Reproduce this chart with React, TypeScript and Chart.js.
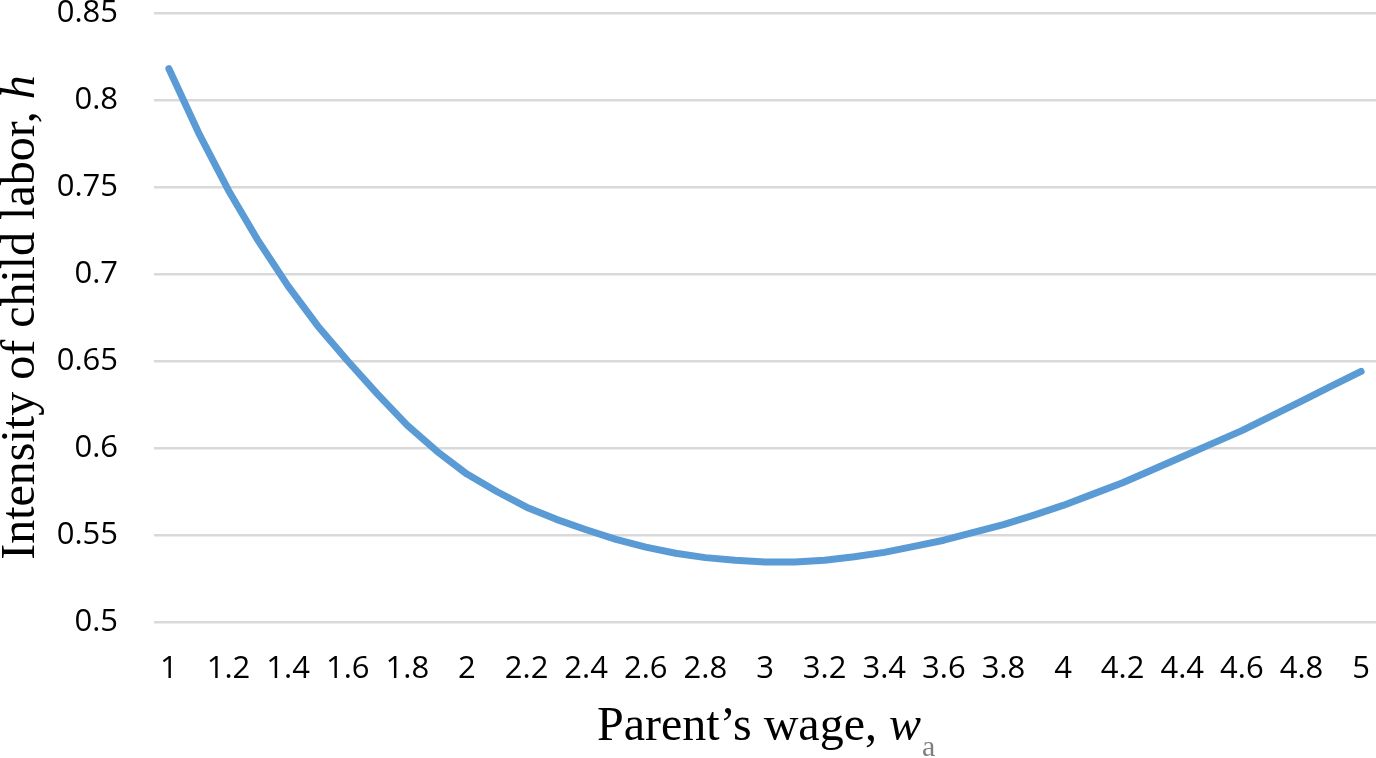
import React, { useEffect, useRef } from 'react';
import { Chart, registerables } from 'chart.js';

Chart.register(...registerables);

// Parent's wage (x categories, step 0.1)
const wageCategories = [
  '1', '1.1', '1.2', '1.3', '1.4', '1.5', '1.6', '1.7', '1.8', '1.9',
  '2', '2.1', '2.2', '2.3', '2.4', '2.5', '2.6', '2.7', '2.8', '2.9',
  '3', '3.1', '3.2', '3.3', '3.4', '3.5', '3.6', '3.7', '3.8', '3.9',
  '4', '4.1', '4.2', '4.3', '4.4', '4.5', '4.6', '4.7', '4.8', '4.9',
  '5',
];

// Labels actually printed on the x axis
const xTickLabels = [
  '1', '1.2', '1.4', '1.6', '1.8', '2', '2.2', '2.4', '2.6', '2.8',
  '3', '3.2', '3.4', '3.6', '3.8', '4', '4.2', '4.4', '4.6', '4.8', '5',
];

// Intensity of child labor, h
const intensityValues = [
  0.818, 0.781, 0.748, 0.719, 0.693, 0.670, 0.650, 0.631, 0.613, 0.598,
  0.585, 0.575, 0.566, 0.559, 0.553, 0.5475, 0.543, 0.5395, 0.537, 0.5355,
  0.5345, 0.5345, 0.5355, 0.5375, 0.540, 0.5435, 0.547, 0.5515, 0.556, 0.5613,
  0.567, 0.5735, 0.580, 0.5875, 0.595, 0.6025, 0.610, 0.6185, 0.627, 0.6355,
  0.644,
];

const Y_MIN = 0.5;
const Y_MAX = 0.85;
const Y_STEP = 0.05;

const X_TITLE = 'Parent\u2019s wage, ';
const X_TITLE_VAR = 'w';
const X_TITLE_SUB = 'a';
const Y_TITLE = 'Intensity of child labor, ';
const Y_TITLE_VAR = 'h';

const SERIF = "'Liberation Serif', 'Times New Roman', serif";
const TICK_FONT = "'Open Sans', 'Liberation Sans', sans-serif";

const axisTitlesPlugin = {
  id: 'axisTitles',
  afterDraw(chart: any) {
    const { ctx, chartArea } = chart;
    ctx.save();
    ctx.fillStyle = '#000000';
    ctx.textBaseline = 'alphabetic';
    ctx.textAlign = 'left';

    // X title
    const normal = `48px ${SERIF}`;
    const italic = `italic 48px ${SERIF}`;
    const sub = `30px ${SERIF}`;
    ctx.font = normal;
    const w1 = ctx.measureText(X_TITLE).width;
    ctx.font = italic;
    const w2 = ctx.measureText(X_TITLE_VAR).width;
    const cx = (chartArea.left + chartArea.right) / 2 - 6;
    let x = cx - (w1 + w2) / 2;
    const by = 740;
    ctx.font = normal;
    ctx.fillText(X_TITLE, x, by);
    x += w1;
    ctx.font = italic;
    ctx.fillText(X_TITLE_VAR, x, by);
    x += w2 + 1;
    ctx.font = sub;
    ctx.fillStyle = '#7f7f7f';
    ctx.fillText(X_TITLE_SUB, x, 756);

    // Y title (rotated)
    ctx.fillStyle = '#000000';
    ctx.font = normal;
    const v1 = ctx.measureText(Y_TITLE).width;
    ctx.font = italic;
    const v2 = ctx.measureText(Y_TITLE_VAR).width;
    const cy = (chartArea.top + chartArea.bottom) / 2;
    ctx.translate(34, cy);
    ctx.rotate(-Math.PI / 2);
    let tx = -(v1 + v2) / 2;
    ctx.font = normal;
    ctx.fillText(Y_TITLE, tx, 0);
    tx += v1;
    ctx.font = italic;
    ctx.fillText(Y_TITLE_VAR, tx, 0);
    ctx.restore();
  },
};

export default function App() {
  const canvasRef = useRef<HTMLCanvasElement | null>(null);

  useEffect(() => {
    document.body.style.margin = '0';
    const canvas = canvasRef.current;
    if (!canvas) return;
    const chart = new Chart(canvas, {
      type: 'line',
      data: {
        labels: wageCategories,
        datasets: [
          {
            data: intensityValues,
            borderColor: '#5B9BD5',
            backgroundColor: '#5B9BD5',
            borderWidth: 7,
            pointRadius: 0,
            pointHoverRadius: 0,
            tension: 0,
            fill: false,
            borderCapStyle: 'round',
            borderJoinStyle: 'round',
          },
        ],
      },
      options: {
        animation: false,
        responsive: false,
        devicePixelRatio: 1,
        layout: { padding: { top: 13, left: 0, right: 0, bottom: 0 } },
        plugins: {
          legend: { display: false },
          tooltip: { enabled: false },
          title: { display: false },
        },
        scales: {
          x: {
            type: 'category',
            offset: true,
            grid: { display: false, drawTicks: false },
            border: { display: false },
            ticks: {
              autoSkip: false,
              maxRotation: 0,
              minRotation: 0,
              padding: 33,
              color: '#000000',
              font: { family: TICK_FONT, size: 31, lineHeight: 0.9 },
              callback: (_v: any, index: number) =>
                xTickLabels.includes(wageCategories[index]) ? wageCategories[index] : '',
            },
            afterFit: (scale: any) => {
              scale.height = 136;
              scale.paddingLeft = 0;
              scale.paddingRight = 0;
            },
          },
          y: {
            type: 'linear',
            min: Y_MIN,
            max: Y_MAX,
            grid: { color: '#d9d9d9', lineWidth: 2.5, drawTicks: false },
            border: { display: false },
            ticks: {
              stepSize: Y_STEP,
              padding: 36,
              color: '#000000',
              font: { family: TICK_FONT, size: 31, lineHeight: 0.9 },
              callback: (v: any) => String(Number(Number(v).toFixed(2))),
            },
            afterFit: (scale: any) => {
              scale.width = 154;
              scale.paddingTop = 0;
              scale.paddingBottom = 0;
            },
          },
        },
      },
      plugins: [axisTitlesPlugin],
    });
    return () => chart.destroy();
  }, []);

  return (
    <div style={{ width: 1376, height: 758, position: 'relative' }}>
      <canvas ref={canvasRef} width={1376} height={758} style={{ display: 'block' }} />
    </div>
  );
}
